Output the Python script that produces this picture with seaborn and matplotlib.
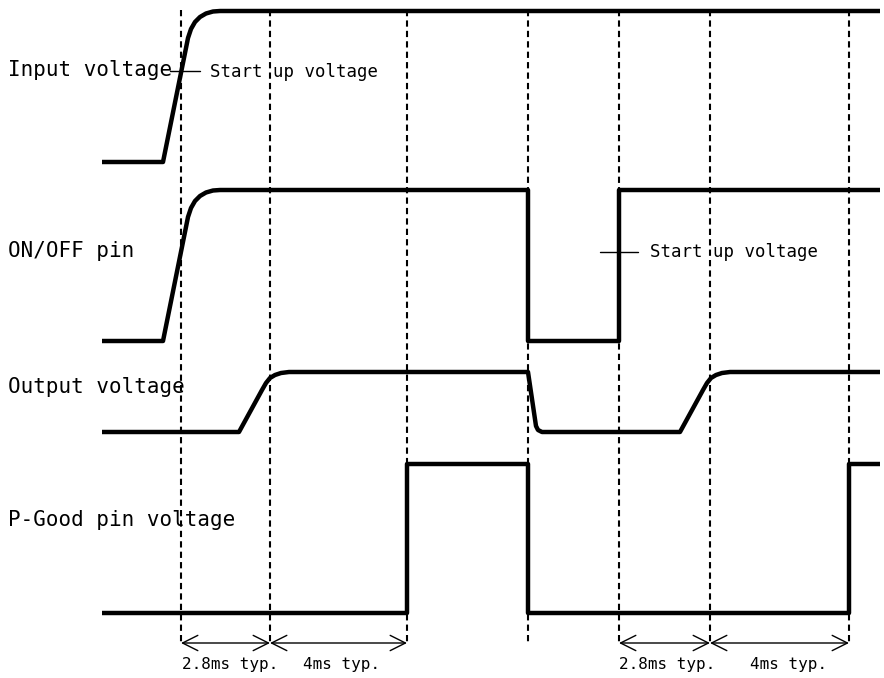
import pandas as pd
import seaborn as sns
from matplotlib import pyplot as plt

# timing diagram, x/y in drawing units (y grows downward)
markers_x = [181, 270, 407, 528, 619, 710, 849]

input_x = [102, 163, 186, 188, 191, 195, 200, 206, 213, 220, 880]
input_y = [162, 162, 48, 38, 29, 22, 17, 13.5, 11.5, 11, 11]

onoff_x = [102, 163, 186, 188, 191, 195, 200, 206, 213, 220,
           528, 528, 619, 619, 880]
onoff_y = [341, 341, 227, 217, 208, 201, 196, 192.5, 190.5, 190,
           190, 341, 341, 190, 190]

output_x = [102, 239, 262, 266, 270, 275, 281, 289, 528, 536, 538, 542,
            680, 703, 707, 711, 716, 722, 730, 880]
output_y = [432, 432, 390, 383, 378, 375, 373, 372, 372, 426, 430, 432,
            432, 390, 383, 378, 375, 373, 372, 372]

pgood_x = [102, 407, 407, 528, 528, 849, 849, 880]
pgood_y = [613, 613, 464, 464, 613, 613, 464, 464]

signal_names = ["Input voltage", "ON/OFF pin", "Output voltage", "P-Good pin voltage"]
label_y = [70, 251, 387, 520]

dim_spans = [(181, 270), (270, 407), (619, 710), (710, 849)]
dim_texts = ["2.8ms typ.", "4ms typ.", "2.8ms typ.", "4ms typ."]
dim_text_x = [182, 303, 619, 750]


def main():
    frames = []
    for name, xs, ys in zip(signal_names,
                            [input_x, onoff_x, output_x, pgood_x],
                            [input_y, onoff_y, output_y, pgood_y]):
        frames.append(pd.DataFrame({'signal': name, 'x': xs, 'y': ys}))
    df = pd.concat(frames, ignore_index=True)

    sns.set_style('white')
    plt.rcParams['text.color'] = 'black'
    fig = plt.figure(figsize=(8.84, 6.78), dpi=100)
    ax = fig.add_axes([0, 0, 1, 1])

    # dashed timing markers
    ax.vlines(markers_x, 10, 643, colors='black', linewidth=1.5,
              linestyles=(0, (3, 2)), zorder=1)

    sns.lineplot(data=df, x='x', y='y', units='signal', estimator=None,
                 sort=False, color='black', linewidth=3.2, legend=False,
                 ax=ax, zorder=2)
    for line in ax.get_lines():
        line.set_solid_capstyle('butt')
        line.set_solid_joinstyle('round')

    ax.set_xlim(0, 884)
    ax.set_ylim(678, 0)
    ax.axis('off')

    mono = 'DejaVu Sans Mono'
    for name, y in zip(signal_names, label_y):
        ax.text(8, y, name, family=mono, fontsize=15, va='center', ha='left',
                color='black')

    # start up voltage callouts
    ax.plot([170, 200], [71, 71], color='black', lw=1)
    ax.text(210, 72, 'Start up voltage', family=mono, fontsize=12.5,
            va='center', ha='left', color='black')
    ax.plot([600, 638], [252, 252], color='black', lw=1)
    ax.text(650, 252, 'Start up voltage', family=mono, fontsize=12.5,
            va='center', ha='left', color='black')

    # dimension arrows
    for (x0, x1), txt, tx in zip(dim_spans, dim_texts, dim_text_x):
        ax.annotate('', xy=(x1, 643), xytext=(x0, 643),
                    arrowprops=dict(arrowstyle='<->,head_length=1.1,head_width=0.55',
                                    lw=1, color='black', shrinkA=0, shrinkB=0,
                                    mutation_scale=10))
        ax.text(tx, 665, txt, family=mono, fontsize=11.5, va='center', ha='left',
                color='black')

    plt.savefig('out.png', dpi=100)


if __name__ == '__main__':
    main()
